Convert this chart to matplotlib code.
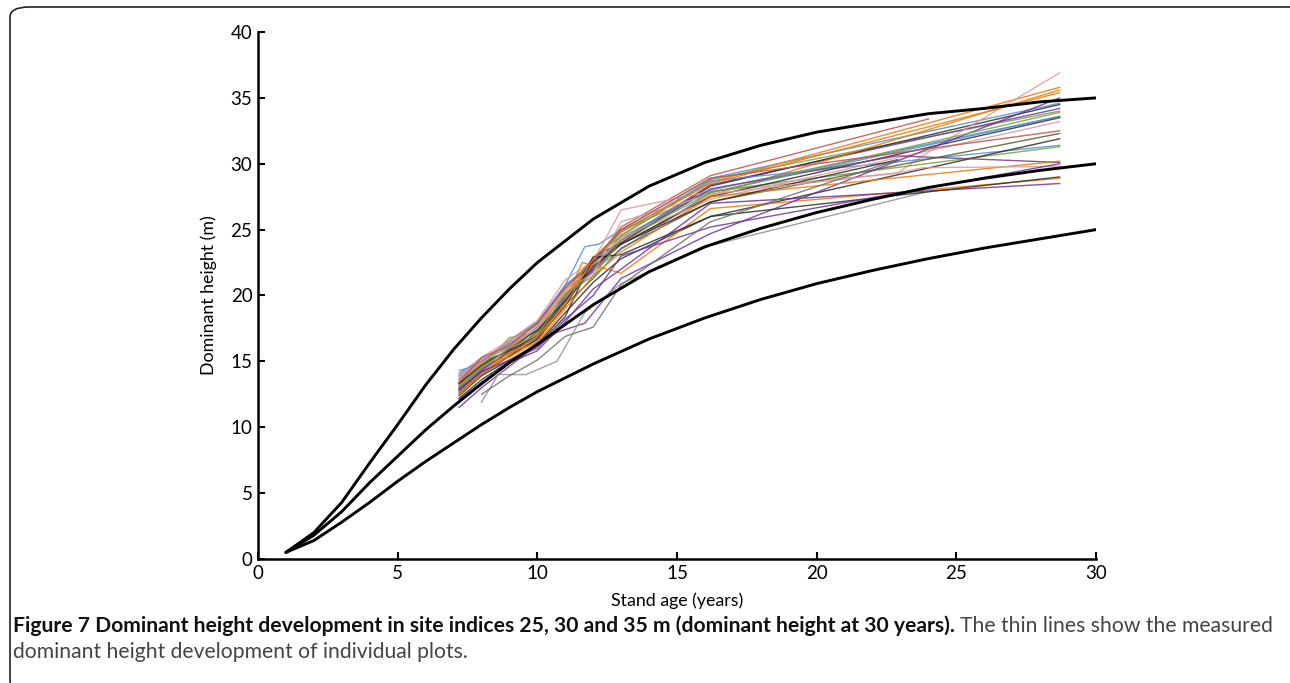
import matplotlib
matplotlib.use("Agg")
import matplotlib.pyplot as plt
from matplotlib.patches import FancyBboxPatch

# site index curves (dominant height at 30 years = 25, 30, 35 m)
si_ages = [1, 2, 3, 4, 5, 6, 7, 8, 9, 10, 12, 14, 16, 18, 20, 22, 24, 26, 28, 30]
si35 = [0.5, 2.0, 4.3, 7.3, 10.2, 13.2, 15.9, 18.3, 20.5, 22.5, 25.8, 28.3, 30.1, 31.4, 32.4, 33.1, 33.8, 34.2, 34.7, 35.0]
si30 = [0.5, 1.8, 3.6, 5.8, 7.8, 9.8, 11.6, 13.3, 14.9, 16.3, 19.3, 21.8, 23.7, 25.1, 26.3, 27.3, 28.2, 28.9, 29.5, 30.0]
si25 = [0.5, 1.4, 2.8, 4.3, 5.9, 7.4, 8.8, 10.2, 11.5, 12.7, 14.8, 16.7, 18.3, 19.7, 20.9, 21.9, 22.8, 23.6, 24.3, 25.0]

# measured plots
A = [7.2, 8, 9, 10, 11, 12, 13, 16.2, 28.7]
plot_ages = [
    [7.2, 8, 9, 10, 11, 12, 13, 16.2, 24.0],
    [7.2, 8, 9, 10, 11, 11.7, 12.2, 13, 16.2, 28.7],
    A, A, A, A,
    [7.2, 8, 9, 10, 11, 12, 13, 16.2, 22.9, 24.5, 28.7],
    A, A, A, A, A, A, A, A, A,
    [7.2, 8, 9, 10, 11, 12, 13, 16.2, 22.9, 28.7],
    [7.2, 8, 9, 10, 11, 11.6, 13, 16.2, 28.7],
    A,
    [7.2, 8, 9.6, 10.7, 11.7, 13, 16.2, 28.7],
    [8, 8.6, 9.6, 10.7, 11.7, 13, 16.2, 24.0],
    A,
    A,
    [7.2, 8, 9, 10, 11, 12, 13, 16.2, 22.9],
    [7.2, 8, 9, 10, 11, 12, 13, 16.2, 22.9, 23.8, 28.7],
    A, A, A, A,
    [8, 9, 10, 11, 12, 13, 16.2, 22.9],
]
plot_heights = [
    [13.9, 15.0, 16.5, 17.9, 20.6, 22.4, 25.2, 29.1, 33.4],
    [14.3, 14.8, 16.6, 18.0, 20.8, 23.7, 23.9, 25.0, 28.9, 34.6],
    [13.6, 15.2, 16.0, 17.5, 20.2, 22.0, 24.6, 28.6, 35.8],
    [13.0, 14.6, 16.8, 17.2, 19.9, 22.9, 24.5, 28.8, 34.0],
    [12.8, 14.3, 15.8, 16.9, 20.0, 21.8, 24.2, 28.4, 34.2],
    [13.3, 14.9, 15.8, 17.0, 19.5, 22.9, 24.0, 28.3, 34.5],
    [14.0, 15.3, 16.6, 18.1, 21.2, 22.6, 26.5, 27.9, 29.3, 31.6, 36.9],
    [13.2, 14.6, 15.9, 17.1, 20.5, 21.9, 23.9, 27.6, 35.6],
    [13.7, 15.0, 16.1, 17.6, 20.8, 22.5, 24.8, 28.7, 31.4],
    [13.4, 14.8, 16.3, 17.8, 20.0, 22.3, 24.9, 27.9, 31.3],
    [13.1, 14.5, 15.6, 16.6, 19.5, 21.9, 23.5, 27.8, 33.6],
    [12.9, 14.2, 15.4, 16.7, 19.2, 22.6, 23.9, 27.5, 33.5],
    [14.1, 15.1, 16.4, 17.3, 19.8, 22.0, 24.4, 28.0, 33.6],
    [12.6, 14.0, 15.4, 17.3, 19.3, 21.3, 23.6, 27.1, 32.3],
    [12.4, 13.9, 15.1, 16.3, 18.7, 21.0, 22.8, 26.0, 31.9],
    [13.8, 15.1, 16.5, 17.7, 20.4, 22.2, 24.4, 27.3, 33.2],
    [13.0, 14.4, 15.7, 16.8, 19.7, 22.0, 24.0, 28.1, 30.6, 30.1],
    [13.5, 14.9, 15.3, 16.5, 19.5, 22.5, 21.7, 26.6, 28.9],
    [12.1, 13.4, 14.9, 15.8, 18.0, 20.5, 22.0, 27.0, 28.5],
    [11.5, 13.0, 15.6, 17.2, 17.9, 21.3, 24.7, 35.0],
    [11.9, 14.0, 14.0, 15.0, 18.7, 20.9, 23.8, 27.9],
    [12.2, 13.6, 15.0, 16.2, 18.4, 22.9, 23.1, 26.0, 29.0],
    [12.7, 14.1, 15.7, 16.4, 19.0, 21.5, 23.3, 27.5, 30.2],
    [13.3, 14.7, 15.9, 17.4, 19.6, 22.2, 23.9, 27.1, 30.3],
    [13.6, 14.9, 16.2, 17.5, 20.3, 21.7, 25.6, 27.7, 29.3, 29.7, 29.8],
    [13.0, 14.5, 16.0, 17.0, 20.1, 21.5, 24.2, 27.8, 33.9],
    [12.5, 14.0, 15.5, 16.9, 19.3, 22.8, 24.9, 28.5, 35.4],
    [13.4, 15.3, 16.2, 17.9, 20.6, 22.7, 25.0, 28.9, 32.5],
    [12.8, 14.2, 15.1, 16.0, 18.2, 20.0, 23.0, 25.2, 30.0],
    [12.5, 13.9, 15.1, 16.9, 17.6, 20.8, 25.6, 30.3],
]
plot_colors = [
    "#c0504d", "#4f8fd0", "#f07800", "#77a040", "#7030a0", "#2b2b2b",
    "#dc9a98", "#f07800", "#4f8fd0", "#77a040", "#4f8fd0", "#2b2b2b",
    "#4f8fd0", "#5a5a2a", "#2b2b2b", "#dc9a98", "#7a3a7a", "#f07800",
    "#7030a0", "#7030a0", "#909090", "#2b2b2b", "#f07800", "#2b2b2b",
    "#dc9a98", "#77a040", "#f07800", "#c0504d", "#7030a0", "#707070",
]

fig = plt.figure(figsize=(12.9, 6.83), dpi=100)
plt.rcParams['font.family'] = ['Lato', 'DejaVu Sans']

# rounded frame around the figure
frame = FancyBboxPatch((10 / 1290, -8 / 683), 1300 / 1290, 684 / 683,
                       boxstyle="round,pad=0,rounding_size=0.015",
                       transform=fig.transFigure, fill=False,
                       edgecolor="#222222", linewidth=1.2, clip_on=False)
fig.patches.append(frame)

ax = fig.add_axes([0.2, 0.1816, 0.6496, 0.7715])

for ages, heights, c in zip(plot_ages, plot_heights, plot_colors):
    ax.plot(ages, heights, color=c, linewidth=1.0, alpha=0.85)

for curve in (si35, si30, si25):
    ax.plot(si_ages, curve, color="black", linewidth=2.1, solid_capstyle="round")

ax.set_xlim(0, 30)
ax.set_ylim(0, 40)
ax.set_xticks([0, 5, 10, 15, 20, 25, 30])
ax.set_yticks([0, 5, 10, 15, 20, 25, 30, 35, 40])
for s in ("top", "right"):
    ax.spines[s].set_visible(False)
for s in ("left", "bottom"):
    ax.spines[s].set_linewidth(1.8)
ax.tick_params(direction="in", length=5, width=1.5, labelsize=13.5, pad=4)
ax.set_xlabel("Stand age (years)", fontsize=12.8, labelpad=8)
ax.set_ylabel("Dominant height (m)", fontsize=12.8, labelpad=10)

# caption
t1 = fig.text(13 / 1290, 1 - 632 / 683,
              "Figure 7 Dominant height development in site indices 25, 30 and 35 m (dominant height at 30 years).",
              fontsize=15.2, fontweight="bold", color="#111111", va="baseline")
fig.canvas.draw()
bb = t1.get_window_extent()
fig.text(bb.x1 / 1290 + 5 / 1290, 1 - 632 / 683, "The thin lines show the measured",
         fontsize=15.2, color="#444444", va="baseline")
fig.text(13 / 1290, 1 - 658 / 683,
         "dominant height development of individual plots.",
         fontsize=15.2, color="#444444", va="baseline")

fig.savefig("out.png", dpi=100)
